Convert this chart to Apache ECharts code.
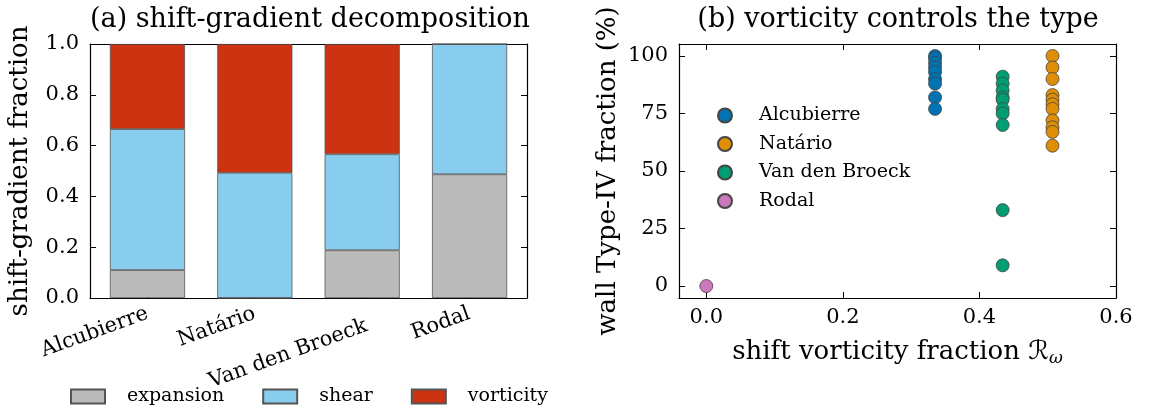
<!DOCTYPE html>
<html>
<head>
<meta charset="utf-8">
<script src="https://cdn.jsdelivr.net/npm/echarts@6/dist/echarts.min.js"></script>
<style>
  html, body { margin: 0; padding: 0; background: #fff; }
  #chart { width: 1157px; height: 407px; }
</style>
</head>
<body>
<div id="chart"></div>
<script>
// Panel (a): shift-gradient decomposition per metric
const metrics = ['Alcubierre', 'Natário', 'Van den Broeck', 'Rodal'];
const expansion = [0.110, 0.000, 0.188, 0.487];
const shear     = [0.555, 0.493, 0.378, 0.513];
const vorticity = [0.335, 0.507, 0.434, 0.000];

// Panel (b): wall Type-IV fraction (%) against shift vorticity fraction
const alcubierreTypeIV = [100, 99, 97, 95, 93, 90, 88, 82, 77];
const natarioTypeIV    = [100, 95, 90, 83, 81, 79, 77, 72, 69, 67, 61];
const vanDenBroeckTypeIV = [91, 88, 85, 82, 81, 77, 75, 70, 33, 9];
const rodalTypeIV      = [0];

const barTicks = [0, 1, 2, 3];
const xTicksB = [0, 0.2, 0.4, 0.6];
const yTicksA = [0, 0.2, 0.4, 0.6, 0.8, 1.0];
const yTicksB = [0, 25, 50, 75, 100];

const FONT = 'DejaVu Serif';
const barColors = { expansion: '#bbbbbb', shear: '#88ccee', vorticity: '#cc3311' };
const pointColors = ['#0173b2', '#de8f05', '#029e73', '#cc78bc'];

const line = { show: true, onZero: false, lineStyle: { color: '#000', width: 1.2 } };
function ticks(values) {
  return { show: true, inside: true, length: 6, customValues: values, lineStyle: { color: '#000', width: 1 } };
}
const tickLabel = { fontFamily: FONT, fontSize: 21, color: '#000' };
const hidden = { show: false };
const nameStyle = { fontFamily: FONT, fontSize: 26, color: '#000' };

const chart = echarts.init(document.getElementById('chart'), null, { renderer: 'canvas' });

// the frame of panel (a) spans -0.535..3.535 in bar units; the bar grid covers
// exactly the four category bands inside it
const frameMin = -0.535, frameMax = 3.535;
const frameLeft = 90, frameWidth = 437;
const band = frameWidth / (frameMax - frameMin);
const barGridLeft = frameLeft + (-0.5 - frameMin) * band;

function barSeries(name, values) {
  return {
    name, type: 'bar', stack: 'total', xAxisIndex: 2, yAxisIndex: 2,
    barWidth: '70%',
    data: values,
    itemStyle: { color: barColors[name], borderColor: '#555', borderWidth: 0.8 },
    emphasis: { disabled: true }
  };
}
function pointSeries(name, idx, values) {
  return {
    name, type: 'scatter', xAxisIndex: 3, yAxisIndex: 3,
    symbol: 'circle', symbolSize: 13,
    data: values.map(v => [vorticity[idx], v]),
    itemStyle: { color: pointColors[idx], borderColor: '#444', borderWidth: 0.8, opacity: 1 },
    emphasis: { disabled: true }
  };
}

// the long label sits one half-line lower so it clears its neighbours
function metricLabel(v) {
  const name = metrics[Math.round(v)];
  return name === 'Van den Broeck' ? '{low|' + name + '}' : name;
}

chart.setOption({
  animation: false,
  backgroundColor: '#fff',
  title: [
    { text: '(a) shift-gradient decomposition', left: 305, top: 1, textAlign: 'center',
      textStyle: { fontFamily: FONT, fontSize: 27, fontWeight: 'normal', color: '#000' } },
    { text: '(b) vorticity controls the type', left: 893, top: 1, textAlign: 'center',
      textStyle: { fontFamily: FONT, fontSize: 27, fontWeight: 'normal', color: '#000' } }
  ],
  legend: [
    { data: ['expansion', 'shear', 'vorticity'], orient: 'horizontal', left: 65, top: 382,
      itemWidth: 34, itemHeight: 14, itemGap: 38, icon: 'rect', selectedMode: false,
      textStyle: { fontFamily: FONT, fontSize: 19, color: '#000', padding: [0, 0, 0, 17] } },
    { data: metrics, orient: 'vertical', left: 712, top: 101,
      itemWidth: 14, itemHeight: 14, itemGap: 9.5, icon: 'circle', selectedMode: false,
      textStyle: { fontFamily: FONT, fontSize: 19, color: '#000', padding: [0, 0, 0, 22] } }
  ],
  grid: [
    { left: frameLeft, top: 44, width: frameWidth, height: 254 },
    { left: barGridLeft, top: 44, width: 4 * band, height: 254 },
    { left: 679, top: 44, width: 437, height: 254 }
  ],
  xAxis: [
    { type: 'value', gridIndex: 0, min: frameMin, max: frameMax, position: 'bottom',
      axisLine: line, axisTick: ticks(barTicks), splitLine: hidden,
      axisLabel: Object.assign({}, tickLabel, { customValues: barTicks, rotate: 20, margin: 15,
        formatter: metricLabel,
        rich: { low: { fontFamily: FONT, fontSize: 21, color: '#000', padding: [26, 0, 0, 0] } } }) },
    { type: 'value', gridIndex: 0, min: frameMin, max: frameMax, position: 'top',
      axisLine: line, axisTick: ticks(barTicks), axisLabel: hidden, splitLine: hidden },
    { type: 'category', gridIndex: 1, data: metrics, boundaryGap: true,
      axisLine: hidden, axisTick: hidden, axisLabel: hidden, splitLine: hidden },
    { type: 'value', gridIndex: 2, min: -0.04, max: 0.6, position: 'bottom',
      axisLine: line, axisTick: ticks(xTicksB), splitLine: hidden,
      axisLabel: Object.assign({}, tickLabel, { customValues: xTicksB, margin: 9,
        formatter: v => v.toFixed(1) }),
      name: '{t|shift vorticity fraction }{r|ℛ}{s|ω}', nameLocation: 'middle', nameGap: 40,
      nameTextStyle: Object.assign({}, nameStyle, {
        rich: {
          t: nameStyle,
          r: { fontFamily: 'DejaVu Sans', fontSize: 26, color: '#000' },
          s: { fontFamily: FONT, fontSize: 17, color: '#000', fontStyle: 'italic', padding: [12, 0, 0, 0] }
        } }) },
    { type: 'value', gridIndex: 2, min: -0.04, max: 0.6, position: 'top',
      axisLine: line, axisTick: ticks(xTicksB), axisLabel: hidden, splitLine: hidden }
  ],
  yAxis: [
    { type: 'value', gridIndex: 0, min: 0, max: 1, position: 'left',
      axisLine: line, axisTick: ticks(yTicksA), splitLine: hidden,
      axisLabel: Object.assign({}, tickLabel, { customValues: yTicksA, margin: 11,
        formatter: v => v.toFixed(1) }),
      name: 'shift-gradient fraction', nameLocation: 'middle', nameGap: 57, nameTextStyle: nameStyle },
    { type: 'value', gridIndex: 0, min: 0, max: 1, position: 'right',
      axisLine: line, axisTick: ticks(yTicksA), axisLabel: hidden, splitLine: hidden },
    { type: 'value', gridIndex: 1, min: 0, max: 1, show: false },
    { type: 'value', gridIndex: 2, min: -5.2, max: 105.2, position: 'left',
      axisLine: line, axisTick: ticks(yTicksB), splitLine: hidden,
      axisLabel: Object.assign({}, tickLabel, { customValues: yTicksB, margin: 11 }),
      name: 'wall Type-IV fraction (%)', nameLocation: 'middle', nameGap: 58, nameTextStyle: nameStyle },
    { type: 'value', gridIndex: 2, min: -5.2, max: 105.2, position: 'right',
      axisLine: line, axisTick: ticks(yTicksB), axisLabel: hidden, splitLine: hidden }
  ],
  series: [
    barSeries('expansion', expansion),
    barSeries('shear', shear),
    barSeries('vorticity', vorticity),
    pointSeries('Alcubierre', 0, alcubierreTypeIV),
    pointSeries('Natário', 1, natarioTypeIV),
    pointSeries('Van den Broeck', 2, vanDenBroeckTypeIV),
    pointSeries('Rodal', 3, rodalTypeIV)
  ]
});
</script>
</body>
</html>
